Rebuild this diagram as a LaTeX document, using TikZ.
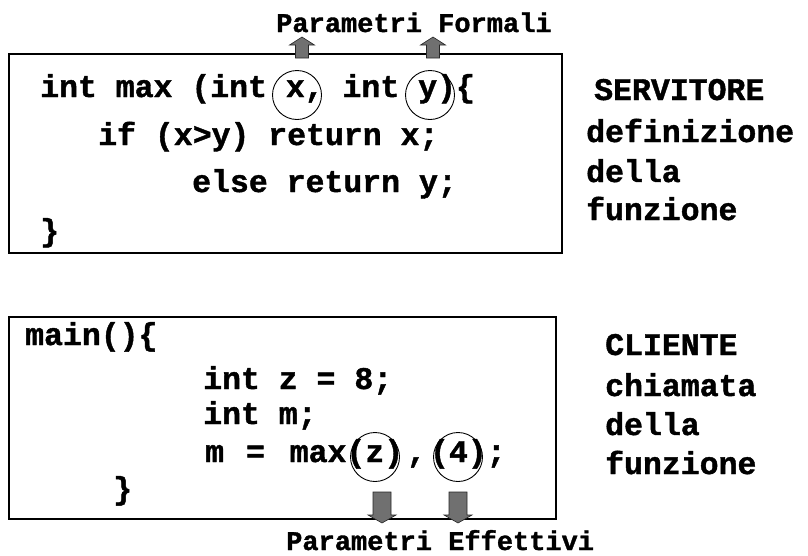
\documentclass[tikz,border=0pt]{standalone}
\usepackage{fontspec}
\newfontfamily\cour[BoldFeatures={FakeBold=1.3}]{Liberation Mono}
\usetikzlibrary{calc}
\definecolor{arrowgray}{RGB}{112,112,112}
\tikzset{
  code/.style={font=\cour\bfseries\fontsize{31.5}{36}\selectfont, anchor=base west, inner sep=0pt},
  lbl/.style={font=\cour\bfseries\fontsize{27}{30}\selectfont, anchor=base west, inner sep=0pt},
  frame/.style={draw=black, line width=1.6pt, anchor=north west, inner sep=0pt},
  ring/.style={circle, draw=black, line width=0.9pt, minimum size=49pt, inner sep=0pt},
  blk/.style={fill=arrowgray, draw=black!85, line width=0.6pt, line join=miter},
}
\newcommand\blkarrow[5]{%
  \draw[blk] ($(#1)+(-#3,0)$) -- ($(#2)+(-#3,#5)$) -- ($(#2)+(-#4,#5)$) -- (#2)
    -- ($(#2)+(#4,#5)$) -- ($(#2)+(#3,#5)$) -- ($(#1)+(#3,0)$) -- cycle;}
\begin{document}
\begin{tikzpicture}[x=1pt,y=-1pt]
\useasboundingbox (0,0) rectangle (808,555);
% boxes
\node[frame, minimum width=553pt, minimum height=199pt] (servbox) at (8,53) {};
\node[frame, minimum width=547pt, minimum height=202pt] (clibox) at (8,316) {};
% server code
\node[code] (s1) at (40,97) {int max (int x, int y)\{};
\node[code] (s2) at (98,145) {if (x>y) return x;};
\node[code] (s3) at (192,192) {else return y;};
\node[code] (s4) at (40,241) {\}};
\node[ring] (cx) at (297,95) {};
\node[ring] (cy) at (430,95) {};
% labels
\node[lbl] (formali) at (276,32) {Parametri Formali};
\coordinate (fa1) at (302,58);
\coordinate (fa1t) at (302,37);
\coordinate (fa2) at (433,58);
\coordinate (fa2t) at (433,37);
\blkarrow{fa1}{fa1t}{6.5}{12.5}{8}
\blkarrow{fa2}{fa2t}{6.5}{12.5}{8}
% right side top
\node[code] (serv) at (594,100) {SERVITORE};
\node[code] (def1) at (586,142) {definizione};
\node[code] (def2) at (586,182) {della};
\node[code] (def3) at (586,220) {funzione};
% client code
\node[code] (c1) at (25,345) {main()\{};
\node[code] (c2) at (203,389) {int z = 8;};
\node[code] (c3) at (203,424) {int m;};
\node[code] (c4) at (205,462) {m\hspace{3pt} =\hspace{6pt} max(z)\hspace{4pt},\hspace{4pt}(4);};
\node[code] (c5) at (113,499) {\}};
\node[ring] (cz) at (375,457) {};
\node[ring] (c4r) at (458,457) {};
\coordinate (ea1) at (382,492);
\coordinate (ea1t) at (382,523);
\coordinate (ea2) at (458,492);
\coordinate (ea2t) at (458,523);
\blkarrow{ea1}{ea1t}{9}{14}{-8}
\blkarrow{ea2}{ea2t}{9}{14}{-8}
\node[lbl] (effettivi) at (286,550) {Parametri Effettivi};
% right side bottom
\node[code] (cli) at (605,355) {CLIENTE};
\node[code] (ch1) at (605,396) {chiamata};
\node[code] (ch2) at (605,435) {della};
\node[code] (ch3) at (605,474) {funzione};
\end{tikzpicture}
\end{document}
